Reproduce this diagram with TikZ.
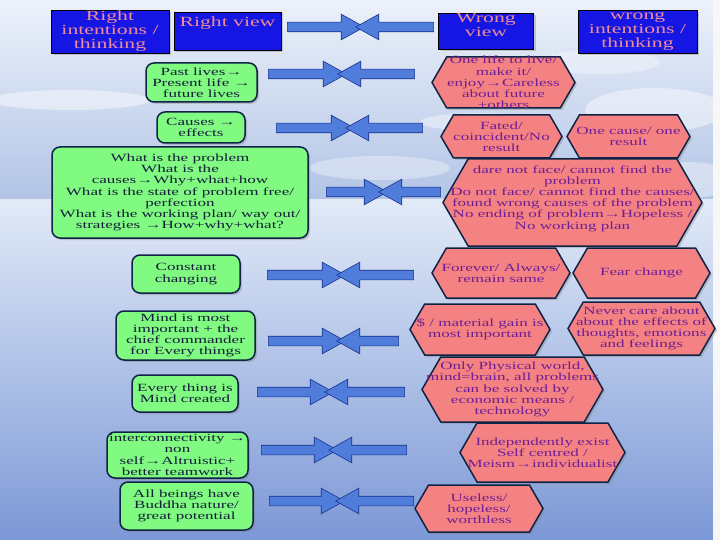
\documentclass[tikz,border=0pt]{standalone}
\usepackage{fontspec}
\setmainfont{Liberation Serif}[FakeStretch=1.55]
\usetikzlibrary{shapes.symbols,shapes.arrows,shadows}

\definecolor{headblue}{RGB}{22,22,228}
\definecolor{headpink}{RGB}{240,140,150}
\definecolor{greenfill}{RGB}{128,250,128}
\definecolor{navyline}{RGB}{15,35,70}
\definecolor{greenink}{RGB}{20,30,60}
\definecolor{salmonfill}{RGB}{245,130,130}
\definecolor{purpleink}{RGB}{110,30,150}
\definecolor{arrowfill}{RGB}{80,125,220}
\definecolor{arrowline}{RGB}{25,50,140}
\definecolor{skytop}{RGB}{236,241,250}
\definecolor{skylow}{RGB}{178,196,230}
\definecolor{seatop}{RGB}{226,234,248}
\definecolor{seabot}{RGB}{124,152,214}

\newcommand\boxfont{\fontsize{11}{11.2}\selectfont}
\newcommand\headfont{\fontsize{14}{14}\selectfont}

\tikzset{
  shadowed/.style={drop shadow={shadow xshift=2pt,shadow yshift=-2pt,opacity=0.35}},
  titlebox/.style={rectangle, draw=black, line width=0.8pt, fill=headblue, shadowed},
  titletext/.style={text=headpink, font=\headfont, align=center, inner sep=0pt},
  rightbox/.style={rectangle, rounded corners=8pt, draw=navyline, line width=1.5pt, fill=greenfill, shadowed},
  righttext/.style={text=greenink, font=\boxfont, align=center, inner sep=0pt},
  wrongbox/.style={signal, signal to=west and east, signal pointer angle=120, draw=navyline, line width=1.5pt, fill=salmonfill, inner sep=0pt, shadowed},
  wrongtext/.style={text=purpleink, font=\boxfont, align=center, inner sep=0pt},
  rarrow/.style={single arrow, draw=arrowline, line width=0.6pt, fill=arrowfill, inner sep=4.5pt, single arrow head extend=8pt, single arrow tip angle=58},
  larrow/.style={rarrow, shape border rotate=180}
}

\begin{document}
\begin{tikzpicture}[x=1pt,y=-1pt]
  \useasboundingbox (0,0) rectangle (720,540);
  % background
  \shade[top color=skytop, bottom color=skylow] (0,0) rectangle (720,200);
  \shade[top color=seatop, bottom color=seabot] (0,200) rectangle (720,540);
  \fill[white,opacity=0.45] (70,100) ellipse (80pt and 10pt);
  \fill[white,opacity=0.4] (480,122) ellipse (60pt and 9pt);
  \fill[white,opacity=0.45] (655,110) ellipse (70pt and 22pt);
  \fill[white,opacity=0.4] (690,180) ellipse (45pt and 18pt);
  \fill[white,opacity=0.35] (600,62) ellipse (60pt and 12pt);
  \fill[white,opacity=0.35] (380,168) ellipse (70pt and 12pt);
  \fill[white!94!gray] (713,0) rectangle (720,540);

  % heading row
  \node[titlebox, minimum width=118pt, minimum height=43pt, label={[titletext]center:{Right\\ intentions /\\ thinking}}] (rightint) at (110,31.5) {};
  \node[titlebox, minimum width=107pt, minimum height=38pt, label={[titletext, yshift=8pt]center:{Right view}}] (rightview) at (227.5,31) {};
  \node[titlebox, minimum width=95pt, minimum height=36pt, label={[titletext, yshift=6pt]center:{Wrong\\ view}}] (wrongview) at (486,31) {};
  \node[titlebox, minimum width=119pt, minimum height=43pt, label={[titletext]center:{wrong\\ intentions /\\ thinking}}] (wrongint) at (637.5,31.5) {};
  \node[rarrow, minimum height=77pt] (r1) at (321.5,27) {};
  \node[larrow, minimum height=78pt] (l1) at (399,27) {};

  % right side
  \node[rightbox, minimum width=111pt, minimum height=39pt, label={[righttext]center:{Past lives→\\ Present life →\\ future lives}}] (past) at (201.5,82.5) {};
  \node[rightbox, minimum width=88pt, minimum height=31pt, label={[righttext]center:{Causes →\\ effects}}] (causes) at (201,127.5) {};
  \node[rightbox, minimum width=256pt, minimum height=91pt, label={[righttext]center:{What is the problem\\ What is the\\ causes→Why+what+how\\ What is the state of problem free/\\ perfection\\ What is the working plan/ way out/\\ strategies →How+why+what?}}] (problem) at (180,192.5) {};
  \node[rightbox, minimum width=108pt, minimum height=38pt, label={[righttext]center:{Constant\\ changing}}] (changing) at (186,274) {};
  \node[rightbox, minimum width=139pt, minimum height=49pt, label={[righttext]center:{Mind is most\\ important + the\\ chief commander\\ for Every things}}] (mind) at (185.5,335.5) {};
  \node[rightbox, minimum width=106pt, minimum height=37pt, label={[righttext]center:{Every thing is\\ Mind created}}] (created) at (185,393.5) {};
  \node[rightbox, minimum width=141pt, minimum height=46pt, label={[righttext]center:{interconnectivity →\\ non\\ self→Altruistic+\\ better teamwork}}] (inter) at (177.5,455) {};
  \node[rightbox, minimum width=133pt, minimum height=48pt, label={[righttext]center:{All beings have\\ Buddha nature/\\ great potential}}] (buddha) at (186.5,506) {};

  % wrong side
  \node[wrongbox, minimum width=143pt, minimum height=51pt, label={[wrongtext]center:{One life to live/\\ make it/\\ enjoy→Careless\\ about future\\ +others}}] (onelife) at (503.5,82.5) {};
  \node[wrongbox, minimum width=121pt, minimum height=43pt, label={[wrongtext]center:{Fated/\\ coincident/No\\ result}}] (fated) at (501.5,136.5) {};
  \node[wrongbox, minimum width=123pt, minimum height=43pt, label={[wrongtext]center:{One cause/ one\\ result}}] (onecause) at (628.5,136.5) {};
  \node[wrongbox, minimum width=259pt, minimum height=87pt, label={[wrongtext, yshift=4pt]center:{dare not face/ cannot find the\\ problem\\ Do not face/ cannot find the causes/\\ found wrong causes of the problem\\ No ending of problem→Hopeless /\\ No working plan}}] (noface) at (572.5,202.5) {};
  \node[wrongbox, minimum width=138pt, minimum height=50pt, label={[wrongtext]center:{Forever/ Always/\\ remain same}}] (forever) at (501,273) {};
  \node[wrongbox, minimum width=137pt, minimum height=50pt, label={[wrongtext]center:{Fear change}}] (fear) at (641.5,273) {};
  \node[wrongbox, minimum width=140pt, minimum height=51pt, label={[wrongtext]center:{\$ / material gain is\\ most important}}] (material) at (480,329.5) {};
  \node[wrongbox, minimum width=147pt, minimum height=53pt, label={[wrongtext]center:{Never care about\\ about the effects of\\ thoughts, emotions\\ and feelings}}] (nevercare) at (641.5,328.5) {};
  \node[wrongbox, minimum width=181pt, minimum height=65pt, label={[wrongtext]center:{Only Physical world,\\ mind=brain, all problems\\ can be solved by\\ economic means /\\ technology}}] (physical) at (512.5,389.5) {};
  \node[wrongbox, minimum width=165pt, minimum height=59pt, label={[wrongtext]center:{Independently exist\\ Self centred /\\ Meism→individualist}}] (independent) at (542.5,452.5) {};
  \node[wrongbox, minimum width=128pt, minimum height=47pt, label={[wrongtext]center:{Useless/\\ hopeless/\\ worthless}}] (useless) at (479,508.5) {};

  % arrows
  \node[rarrow, minimum height=78pt] (r2) at (303,74) {};
  \node[larrow, minimum height=77pt] (l2) at (380.5,74) {};
  \node[rarrow, minimum height=78pt] (r3) at (311,128) {};
  \node[larrow, minimum height=77pt] (l3) at (388.5,128) {};
  \node[rarrow, minimum height=61pt] (r4) at (352.5,192) {};
  \node[larrow, minimum height=62pt] (l4) at (414,192) {};
  \node[rarrow, minimum height=78pt] (r5) at (302,275) {};
  \node[larrow, minimum height=77pt] (l5) at (379.5,275) {};
  \node[rarrow, minimum height=77pt] (r6) at (302.5,341) {};
  \node[larrow, minimum height=62pt] (l6) at (372,341) {};
  \node[rarrow, minimum height=76pt] (r7) at (291,392) {};
  \node[larrow, minimum height=80pt] (l7) at (369,392) {};
  \node[rarrow, minimum height=76pt] (r8) at (295,450) {};
  \node[larrow, minimum height=78pt] (l8) at (372,450) {};
  \node[rarrow, minimum height=75pt] (r9) at (302.5,501) {};
  \node[larrow, minimum height=78pt] (l9) at (379,501) {};
\end{tikzpicture}
\end{document}
